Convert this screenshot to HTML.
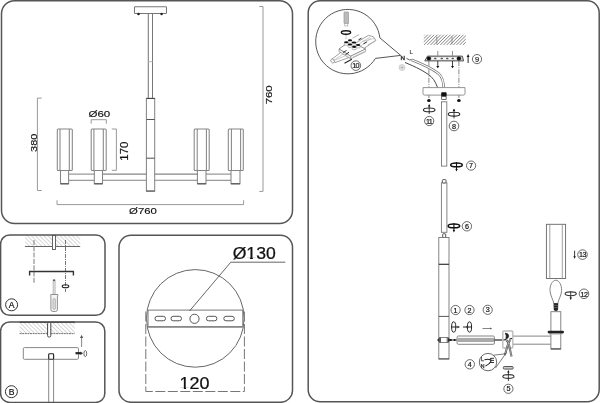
<!DOCTYPE html>
<html><head><meta charset="utf-8">
<style>
html,body{margin:0;padding:0;background:#fff;width:600px;height:403px;overflow:hidden}
svg{display:block;will-change:transform}
text{font-family:"Liberation Sans",sans-serif}
</style></head>
<body>
<svg width="600" height="403" viewBox="0 0 600 403">
<defs>
<pattern id="hA" width="2.9" height="2.9" patternUnits="userSpaceOnUse" patternTransform="rotate(-45)">
<rect width="2.9" height="2.9" fill="#fff"/><line x1="0" y1="0" x2="0" y2="2.9" stroke="#a5a5a5" stroke-width="0.9"/>
</pattern>
<pattern id="hC" width="2.3" height="2.3" patternUnits="userSpaceOnUse" patternTransform="rotate(45)">
<rect width="2.3" height="2.3" fill="#fff"/><line x1="0" y1="0" x2="0" y2="2.3" stroke="#444" stroke-width="0.95"/>
</pattern>
</defs>

<!-- ===== PANEL 1 : chandelier ===== -->
<g fill="none" stroke="#858585" stroke-width="1.05">
<rect x="134.5" y="6.8" width="32" height="6.7" rx="0.8" stroke="#777"/>
<circle cx="138.5" cy="14" r="1.3" fill="#222" stroke="none"/><circle cx="161.6" cy="14" r="1.3" fill="#222" stroke="none"/>
<line x1="148.3" y1="13.5" x2="148.3" y2="98.3" stroke="#777"/>
<line x1="152.5" y1="13.5" x2="152.5" y2="98.3" stroke="#777"/>
<line x1="148.3" y1="61.6" x2="152.5" y2="61.6" stroke="#bbb"/>
<rect x="146.4" y="98.3" width="8.3" height="92.9"/>
<line x1="146.4" y1="98.5" x2="154.7" y2="98.5" stroke="#444" stroke-width="1"/>
<line x1="146.4" y1="119.5" x2="154.7" y2="119.5" stroke="#555"/>
<line x1="146.4" y1="158.2" x2="154.7" y2="158.2" stroke="#555"/>
<line x1="146.4" y1="191" x2="154.7" y2="191" stroke="#555"/>
<!-- arms -->
<line x1="68.6" y1="174.1" x2="94.3" y2="174.1"/><line x1="68.6" y1="180.3" x2="94.3" y2="180.3"/>
<line x1="102.5" y1="174.1" x2="146.4" y2="174.1"/><line x1="102.5" y1="180.3" x2="146.4" y2="180.3"/>
<line x1="154.7" y1="174.1" x2="197.4" y2="174.1"/><line x1="154.7" y1="180.3" x2="197.4" y2="180.3"/>
<line x1="206" y1="174.1" x2="231" y2="174.1"/><line x1="206" y1="180.3" x2="231" y2="180.3"/>
<!-- shades -->
<rect x="57.3" y="128.9" width="15" height="41.6" rx="1"/>
<line x1="60" y1="128.9" x2="60" y2="170.5"/><line x1="69.3" y1="128.9" x2="69.3" y2="170.5"/>
<rect x="91.2" y="128.9" width="15" height="41.6" rx="1"/>
<line x1="93.9" y1="128.9" x2="93.9" y2="170.5"/><line x1="103.3" y1="128.9" x2="103.3" y2="170.5"/>
<rect x="194.2" y="128.9" width="15" height="41.6" rx="1"/>
<line x1="197.2" y1="128.9" x2="197.2" y2="170.5"/><line x1="206.4" y1="128.9" x2="206.4" y2="170.5"/>
<rect x="228.3" y="128.9" width="15" height="41.6" rx="1"/>
<line x1="231.4" y1="128.9" x2="231.4" y2="170.5"/><line x1="240.6" y1="128.9" x2="240.6" y2="170.5"/>
<!-- sockets -->
<path d="M60.5 170.5V183.8H68.6V170.5"/><line x1="60.5" y1="183.8" x2="68.6" y2="183.8" stroke="#555" stroke-width="1.2"/>
<path d="M94.3 170.5V183.8H102.5V170.5"/><line x1="94.3" y1="183.8" x2="102.5" y2="183.8" stroke="#555" stroke-width="1.2"/>
<path d="M197.4 170.5V183.8H206V170.5"/><line x1="197.4" y1="183.8" x2="206" y2="183.8" stroke="#555" stroke-width="1.2"/>
<path d="M231 170.5V183.8H240V170.5"/><line x1="231" y1="183.8" x2="240" y2="183.8" stroke="#555" stroke-width="1.2"/>
</g>
<!-- dims -->
<g fill="none" stroke="#999" stroke-width="1">
<path d="M41.7 98.1H37.4V190.5H41.7"/>
<path d="M91.2 123.6V119.7H106.3V123.6"/>
<path d="M111.8 129H116.4V170.3H111.8"/>
<path d="M57 200.3V204.6H243.6V200.3"/>
<path d="M259.3 6.5H263V191.4H259.3"/>
</g>
<g fill="#111" font-size="10.4" text-anchor="middle" stroke="#111" stroke-width="0.15">
<text transform="translate(99.3,117.4) scale(1.18,1)" font-size="9.8">Ø60</text>
<text transform="translate(143,214.4) scale(1.16,1)" font-size="9.8">Ø760</text>
<text transform="translate(36.5,142.8) rotate(-90) scale(1.12,1)" font-size="9.8">380</text>
<text transform="translate(127.6,151.1) rotate(-90) scale(1.1,1)">170</text>
<text transform="translate(272.3,94.8) rotate(-90) scale(1.18,1)" font-size="9.7">760</text>
</g>

<!-- ===== PANEL 2 : A ===== -->
<rect x="25" y="235.5" width="55.2" height="11" fill="url(#hA)"/>
<line x1="25" y1="246.5" x2="80.2" y2="246.5" stroke="#666" stroke-width="1"/>
<rect x="52.5" y="235.5" width="3" height="14" fill="#fff" stroke="#555" stroke-width="0.9"/>
<line x1="34" y1="240" x2="34" y2="284" stroke="#888" stroke-width="1.1" stroke-dasharray="5 1.3"/>
<line x1="65.5" y1="240" x2="65.5" y2="292" stroke="#555" stroke-width="0.8" stroke-dasharray="4 1 1 1"/>
<path d="M29.6 275.4V271.5H73.4V275.6" fill="none" stroke="#333" stroke-width="1.4"/>
<ellipse cx="65.5" cy="286.2" rx="3.3" ry="1.5" fill="none" stroke="#222" stroke-width="1.1"/>
<rect x="53.1" y="280" width="2" height="14.5" fill="#e6e6e6" stroke="#999" stroke-width="0.6"/>
<rect x="53.2" y="279.5" width="1.8" height="1.6" fill="#555"/>
<path d="M50.8 294.5H57.8V296.5H57.4V309.5Q57.4 311.5 55.4 311.5H52.9Q50.9 311.5 50.9 309.5V296.5H50.8Z" fill="#f4f4f4" stroke="#777" stroke-width="0.8"/>
<rect x="53" y="298.5" width="2.4" height="11" rx="1.2" fill="#ddd" stroke="#999" stroke-width="0.6"/>
<circle cx="11.6" cy="304.8" r="6" fill="none" stroke="#333" stroke-width="1"/>
<text x="11.7" y="307.7" text-anchor="middle" font-size="8.6" fill="#111" stroke="#111" stroke-width="0.2">A</text>

<!-- ===== PANEL 3 : B ===== -->
<rect x="19.6" y="322.5" width="55.2" height="11" fill="url(#hA)"/>
<line x1="19.6" y1="322.3" x2="74.8" y2="322.3" stroke="#444" stroke-width="1.6"/>
<line x1="19.6" y1="333.6" x2="74.8" y2="333.6" stroke="#777" stroke-width="1" stroke-dasharray="2 0.6"/>
<rect x="47.6" y="322.5" width="3.2" height="14.5" rx="1.2" fill="#fff" stroke="#444" stroke-width="1"/>
<rect x="23.3" y="347.6" width="55.2" height="11.7" rx="1.2" fill="#fff" stroke="#888" stroke-width="1"/>
<rect x="48.7" y="356" width="4.9" height="52" fill="#fff" stroke="#888" stroke-width="1"/>
<rect x="48.7" y="353.7" width="4.9" height="5.6" rx="0.9" fill="#fff" stroke="#222" stroke-width="1.1"/>
<line x1="81.6" y1="347" x2="81.6" y2="337" stroke="#555" stroke-width="0.7"/>
<path d="M80 338L81.6 334.8L83.2 338Z" fill="#555"/>
<path d="M75.5 353.2H81" stroke="#222" stroke-width="2.2"/>
<path d="M80.5 351.5L83 353.2L80.5 355Z" fill="#333"/>
<ellipse cx="85.3" cy="353.6" rx="1.4" ry="3" fill="none" stroke="#444" stroke-width="0.8"/>
<circle cx="11.4" cy="391.7" r="6" fill="none" stroke="#333" stroke-width="1"/>
<text x="11.7" y="394.8" text-anchor="middle" font-size="8.6" fill="#111" stroke="#111" stroke-width="0.2">B</text>

<!-- ===== PANEL 4 : disc ===== -->
<circle cx="195.3" cy="318.4" r="48.8" fill="none" stroke="#666" stroke-width="1"/>
<rect x="148" y="310.1" width="94.8" height="16.9" fill="#fff" stroke="#777" stroke-width="1"/>
<line x1="148" y1="326.8" x2="242.8" y2="326.8" stroke="#888" stroke-width="1.4"/>
<g fill="none" stroke="#555" stroke-width="1">
<rect x="155" y="316.3" width="10.5" height="4.5" rx="2.25"/>
<rect x="171" y="316.3" width="10.5" height="4.5" rx="2.25"/>
<rect x="206.4" y="316.3" width="10.5" height="4.5" rx="2.25"/>
<rect x="223.8" y="316.3" width="10.5" height="4.5" rx="2.25"/>
<circle cx="194.5" cy="318.8" r="4.6"/>
</g>
<path d="M189.5 311L230.8 262.2H285.3" fill="none" stroke="#555" stroke-width="0.9"/>
<g fill="none" stroke="#777" stroke-width="1" stroke-dasharray="10 2.5">
<line x1="145.8" y1="311.5" x2="145.8" y2="391.5"/>
<line x1="244.4" y1="311.5" x2="244.4" y2="391.5"/>
<line x1="145.8" y1="391.5" x2="244.4" y2="391.5" stroke-dashoffset="3"/>
</g>
<text transform="translate(254.2,259.3) scale(1.1,1)" text-anchor="middle" font-size="16" fill="#111" stroke="#111" stroke-width="0.25">Ø130</text>
<text transform="translate(194.4,389) scale(1.12,1)" text-anchor="middle" font-size="16" fill="#111" stroke="#111" stroke-width="0.25">120</text>

<g fill="#fff"><rect x="246.5" y="257.6" width="3.4" height="1.8"/><rect x="252.9" y="257.6" width="3.4" height="1.8"/>
<rect x="179.6" y="387.6" width="4.2" height="1.8"/><rect x="186" y="387.6" width="3.2" height="1.8"/></g>
<!-- ===== PANEL 5 : assembly ===== -->
<g id="p5">
<!-- callout circle -->
<path d="M379.9 37.9 A32.2 32.2 0 1 0 375.4 58.4 L400.7 55.4 Z" fill="none" stroke="#444" stroke-width="0.9"/>
<!-- screwdriver in callout -->
<rect x="344" y="12" width="4.5" height="11.5" rx="0.5" fill="#bbb" stroke="#999" stroke-width="0.7"/>
<rect x="344.8" y="23.5" width="3" height="2.5" fill="#fff" stroke="#999" stroke-width="0.6"/>
<ellipse cx="346" cy="32.5" rx="4.6" ry="1.7" fill="none" stroke="#111" stroke-width="1.4"/>
<line x1="346" y1="35" x2="346" y2="39" stroke="#999" stroke-width="0.8" stroke-dasharray="1.5 1"/>
<!-- cable bundle -->
<path d="M331.8 59.2 L344 50 L368.5 35.3 L373.5 36.8 L375.8 40.3 L353 56 L335 62.6 Z" fill="#fff" stroke="#777" stroke-width="0.7"/>
<g fill="none" stroke="#aaa" stroke-width="0.6">
<path d="M333 61 L352 53 L371 38"/>
<path d="M334 60 L348 51 L370 37"/>
<path d="M362 41.5 L374 38.5"/>
</g>
<ellipse cx="332.6" cy="61" rx="1.6" ry="2.1" fill="#fff" stroke="#777" stroke-width="0.7" transform="rotate(-35 332.6 61)"/>
<!-- terminal block -->
<path d="M339 49 L350 41.2 L365.6 49 L350.7 56.2 Z" fill="#fff" stroke="#666" stroke-width="0.7"/>
<path d="M350.7 56.2 L365.6 49 V51.6 L350.7 58.8 Z" fill="#fff" stroke="#777" stroke-width="0.6"/>
<path d="M339 49 V51.6 L350.7 58.8 V56.2 Z" fill="#eee" stroke="#777" stroke-width="0.6"/>
<g stroke="#999" stroke-width="0.5"><path d="M353 57 L364.5 51.5"/></g>
<g fill="#fff" stroke="#777" stroke-width="0.5">
<rect x="348" y="40.8" width="4" height="2.4" rx="1"/>
<rect x="344.2" y="42.8" width="4" height="2.4" rx="1"/>
<rect x="352" y="43" width="4" height="2.4" rx="1"/>
<rect x="348" y="45" width="4" height="2.4" rx="1"/>
<rect x="356.2" y="45.5" width="4" height="2.4" rx="1"/>
<rect x="352.2" y="47.3" width="4" height="2.4" rx="1"/>
</g>
<g fill="#111">
<ellipse cx="350" cy="40.25" rx="2.1" ry="1.1"/>
<ellipse cx="346.2" cy="42.25" rx="2.1" ry="1.1"/>
<ellipse cx="354" cy="42.5" rx="2.1" ry="1.1"/>
<ellipse cx="350" cy="44.5" rx="2.1" ry="1.1"/>
<ellipse cx="358.2" cy="45" rx="2.1" ry="1.1"/>
<ellipse cx="354.2" cy="46.8" rx="2.1" ry="1.1"/>
</g>
<path d="M343 52.5 L346.5 50.5" stroke="#222" stroke-width="0.9"/>
<path d="M345.5 54.5 L349 52.3" stroke="#222" stroke-width="1"/>
<path d="M344.5 63.3 L351.8 59.3" stroke="#222" stroke-width="1.1"/>
<path d="M352.5 38.2 L359 34.6" stroke="#aaa" stroke-width="0.9"/>
<path d="M368 45 L375.5 41" stroke="#aaa" stroke-width="0.9"/>
<path d="M358.5 39.8 L361.5 38.2" stroke="#222" stroke-width="1"/>
<path d="M363.5 43.8 L366.8 42" stroke="#222" stroke-width="1"/>
<circle cx="355.8" cy="65.6" r="4.8" fill="#fff" stroke="#444" stroke-width="0.8"/>
<text x="355.6" y="68.3" text-anchor="middle" font-size="7.2" fill="#111" stroke="#111" stroke-width="0.2" letter-spacing="-0.6">10</text>

<!-- ceiling hatch -->
<rect x="423.8" y="34.7" width="42" height="10.2" fill="url(#hC)"/>
<path d="M436.8 36.5V44.5 M452 36.5V44.5" stroke="#777" stroke-width="0.7"/>
<!-- mounting bar -->
<path d="M427.5 56.1 H462.3 L463.7 60.9 H424.8 Z" fill="#ccc" stroke="#444" stroke-width="0.9"/>
<g fill="#fff"><rect x="431.5" y="57.4" width="25" height="2.2"/></g><g fill="#555"><rect x="434" y="57.8" width="2.5" height="1.4" rx="0.7"/><rect x="440.5" y="57.8" width="2.5" height="1.4" rx="0.7"/><rect x="446" y="57.8" width="2.5" height="1.4" rx="0.7"/><rect x="451.5" y="57.8" width="2.5" height="1.4" rx="0.7"/></g>
<circle cx="428.9" cy="58.5" r="2.1" fill="#111"/>
<circle cx="458.9" cy="58.5" r="2.1" fill="#111"/>
<g stroke="#777" stroke-width="0.8">
<line x1="437.8" y1="51" x2="437.8" y2="55.8"/><line x1="452.5" y1="51" x2="452.5" y2="55.8"/>
</g>
<g stroke="#111" stroke-width="0.8">
<line x1="437.8" y1="61" x2="437.8" y2="66.5"/><line x1="452.5" y1="61" x2="452.5" y2="66.5"/>
</g>
<path d="M436.3 66 H439.3 L437.8 68.3Z M451 66 H454 L452.5 68.3Z" fill="#111"/>
<line x1="468.1" y1="56" x2="468.1" y2="63" stroke="#111" stroke-width="0.9"/>
<path d="M466.7 57 L468.1 54 L469.5 57Z" fill="#111"/>
<circle cx="477" cy="59.1" r="4.6" fill="none" stroke="#444" stroke-width="0.8"/>
<text x="477" y="61.8" text-anchor="middle" font-size="7.5" fill="#111" stroke="#111" stroke-width="0.15">9</text>
<!-- dash-dot lines -->
<g stroke="#555" stroke-width="0.7" stroke-dasharray="5 1.2 1 1.2">
<line x1="428.9" y1="61" x2="428.9" y2="98"/>
<line x1="458.9" y1="61" x2="458.9" y2="98"/>
</g>
<!-- L N labels, ground -->
<text x="411.2" y="53.5" text-anchor="middle" font-size="6" fill="#444" stroke="#444" stroke-width="0.2">L</text>
<text x="402.8" y="59.6" text-anchor="middle" font-size="6.2" fill="#333" stroke="#333" stroke-width="0.4">N</text>
<circle cx="402" cy="67.5" r="3" fill="#e4e4e4" stroke="#bbb" stroke-width="0.6"/>
<path d="M400.5 67.5H403.5M402 66V69" stroke="#999" stroke-width="0.5"/>
<path d="M406.5 58.3 Q409.5 61 412.5 59.5" fill="none" stroke="#333" stroke-width="0.8"/>
<!-- cables -->
<path d="M411.5 59.8 C422 64 432 68.5 438.5 73.5 C443 77 443.9 83 443.9 91" fill="none" stroke="#777" stroke-width="2.6"/>
<path d="M411.5 59.8 C422 64 432 68.5 438.5 73.5 C443 77 443.9 83 443.9 91" fill="none" stroke="#fff" stroke-width="1.1"/>
<path d="M405 62.5 C416 67 425 71.5 431 76.6 C435 80 437 86 439.5 92.5" fill="none" stroke="#333" stroke-width="0.9"/>
<!-- canopy -->
<path d="M423 87.6 H465 V93.3 Q465 95.1 463.2 95.1 H424.8 Q423 95.1 423 93.3 Z" fill="#fff" stroke="#888" stroke-width="0.9"/>
<rect x="441.2" y="92.3" width="5.4" height="4.1" rx="0.8" fill="#111"/>
<rect x="441.7" y="96.4" width="4.4" height="3.1" fill="#fff" stroke="#333" stroke-width="0.7"/>
<ellipse cx="428.9" cy="100.5" rx="1.8" ry="1.5" fill="#111"/>
<ellipse cx="458.9" cy="100.5" rx="1.8" ry="1.5" fill="#111"/>
<!-- rotation symbols -->
<g fill="none" stroke="#222" stroke-width="1.1">
<ellipse cx="429.2" cy="109.9" rx="5.8" ry="1.9"/>
<ellipse cx="454" cy="114.2" rx="5.8" ry="1.9"/>
</g>
<g fill="none" stroke="#111" stroke-width="1.5">
<ellipse cx="456.5" cy="164.9" rx="5.8" ry="1.9"/>
<ellipse cx="453.9" cy="225.9" rx="5.8" ry="1.9"/>
</g>
<g stroke="#111" stroke-width="0.8">
<line x1="429.2" y1="105" x2="429.2" y2="114"/>
<line x1="454" y1="109.5" x2="454" y2="118.5"/>
<line x1="456.5" y1="162.3" x2="456.5" y2="170" stroke-width="1.1"/>
<line x1="453.9" y1="223.3" x2="453.9" y2="231" stroke-width="1.1"/>
<line x1="570.7" y1="291.5" x2="570.7" y2="298.5"/>
<line x1="508.4" y1="371" x2="508.4" y2="381"/>
</g>
<path d="M428 106.5 L429.2 104 L430.4 106.5Z M452.8 111 L454 108.5 L455.2 111Z M455.3 169 L456.5 171.5 L457.7 169Z M452.7 230 L453.9 232.5 L455.1 230Z M569.5 297.5 L570.7 300 L571.9 297.5Z M507.2 372.5 L508.4 370 L509.6 372.5Z" fill="#111"/>
<g fill="none" stroke="#333" stroke-width="1.1">
<ellipse cx="570.7" cy="293.8" rx="5.6" ry="1.9"/>
<ellipse cx="508.4" cy="376.5" rx="5.6" ry="1.9"/>
</g>
<!-- numbered circles -->
<g fill="none" stroke="#444" stroke-width="0.8">
<circle cx="429.2" cy="121" r="4.6"/>
<circle cx="454" cy="126" r="4.8"/>
<circle cx="471.1" cy="165.6" r="4.6"/>
<circle cx="466.9" cy="226.3" r="4.7"/>
<circle cx="455.6" cy="310" r="4.6"/>
<circle cx="469.5" cy="310" r="4.6"/>
<circle cx="487.7" cy="309.8" r="4.6"/>
<circle cx="469.8" cy="364.3" r="4.7"/>
<circle cx="508.4" cy="388.8" r="4.6"/>
<circle cx="582.5" cy="254.6" r="4.8"/>
<circle cx="584" cy="293.8" r="4.8"/>
</g>
<g fill="#111" font-size="7.2" text-anchor="middle" stroke="#111" stroke-width="0.2">
<text x="429" y="123.6" letter-spacing="-0.8">11</text>
<text x="454" y="128.7">8</text>
<text x="471.1" y="168.2">7</text>
<text x="466.9" y="228.9">6</text>
<text x="455.6" y="312.6">1</text>
<text x="469.5" y="312.6">2</text>
<text x="487.7" y="312.4">3</text>
<text x="469.8" y="366.9">4</text>
<text x="508.4" y="391.4">5</text>
<text x="582.5" y="257.3" letter-spacing="-0.4" font-size="7.2">13</text>
<text x="584" y="296.5" letter-spacing="-0.4" font-size="7.2">12</text>
</g>
<!-- rods -->
<rect x="441.5" y="101.8" width="5.3" height="64.3" fill="#fff" stroke="#777" stroke-width="0.9"/>
<rect x="441.4" y="182.8" width="5.5" height="49.5" fill="#fff" stroke="#777" stroke-width="0.9"/>
<rect x="442.4" y="179.6" width="3.6" height="3.4" rx="0.8" fill="#fff" stroke="#444" stroke-width="0.9"/>
<!-- body -->
<rect x="442.7" y="233.8" width="3" height="3.7" rx="0.5" fill="#fff" stroke="#444" stroke-width="0.9"/>
<rect x="438.8" y="237.5" width="10.2" height="121.6" fill="#fff" stroke="#777" stroke-width="0.9"/>
<line x1="438.8" y1="264.3" x2="449" y2="264.3" stroke="#333" stroke-width="1.2"/>
<line x1="438.8" y1="316.4" x2="449" y2="316.4" stroke="#555" stroke-width="1"/>
<line x1="438.8" y1="358.8" x2="449" y2="358.8" stroke="#555" stroke-width="1"/>
<!-- connector -->
<rect x="439.4" y="337.6" width="8.8" height="4.8" fill="#fff" stroke="#666" stroke-width="0.8"/>
<path d="M437 340 L439.6 337.4 V342.6 Z M448 337.4 L450.8 340 L448 342.6 Z" fill="#333"/>
<line x1="440.5" y1="337.6" x2="440.5" y2="342.4" stroke="#333" stroke-width="0.8"/>
<line x1="447.2" y1="337.6" x2="447.2" y2="342.4" stroke="#333" stroke-width="0.8"/>
<line x1="450.5" y1="340" x2="457.2" y2="340" stroke="#333" stroke-width="1"/>
<circle cx="450.8" cy="340" r="1.1" fill="#111"/><circle cx="454.6" cy="340" r="1.1" fill="#111"/>
<!-- symbols 1,2 -->
<g fill="#fff" stroke="#222" stroke-width="1">
<ellipse cx="453.7" cy="327" rx="2.1" ry="5.2"/>
<ellipse cx="469.5" cy="327" rx="2.1" ry="5.2"/>
</g>
<g stroke="#222" stroke-width="1">
<line x1="451" y1="327" x2="458.5" y2="327"/>
<line x1="463" y1="327" x2="472" y2="327"/>
</g>
<line x1="482.5" y1="328.5" x2="490.5" y2="328.5" stroke="#666" stroke-width="0.8"/>
<path d="M457.5 325.8 L460 327 L457.5 328.2Z M466.5 325.8 L469 327 L466.5 328.2Z" fill="#333"/>
<path d="M490 327.5 L492.3 328.5 L490 329.5Z" fill="#666"/>
<!-- tube -->
<rect x="457.1" y="336" width="37.3" height="8.3" rx="1.2" fill="#fff" stroke="#777" stroke-width="0.9"/>
<rect x="457.6" y="337.9" width="36.4" height="4.1" fill="#aaa"/>
<line x1="494.4" y1="340" x2="502.5" y2="340" stroke="#111" stroke-width="1.1"/>
<!-- junction box -->
<rect x="502.8" y="331" width="10" height="17" rx="1" fill="#fff" stroke="#bbb" stroke-width="1.4"/>
<path d="M505.3 333.2 Q509 333.5 508.6 336.5 Q508.2 339 505.8 338.5 Q507.2 336 505.3 333.2Z" fill="#222" stroke="#222" stroke-width="0.8"/>
<line x1="513.3" y1="336.1" x2="550.9" y2="336.1" stroke="#777" stroke-width="0.9"/>
<line x1="513.3" y1="344.2" x2="550.9" y2="344.2" stroke="#777" stroke-width="0.9"/>
<path d="M503.5 340 L506 339.5" stroke="#111" stroke-width="1.2"/>
<!-- wires -->
<path d="M506 340 C510 342 509.5 350 511.6 356.5" fill="none" stroke="#555" stroke-width="2"/>
<path d="M510.5 340 C507 343 507 350 504.8 355" fill="none" stroke="#555" stroke-width="2"/>
<path d="M506 340 C510 342 509.5 350 511.6 356.5" fill="none" stroke="#ccc" stroke-width="0.7"/>
<path d="M510.5 340 C507 343 507 350 504.8 355" fill="none" stroke="#ccc" stroke-width="0.7"/>
<path d="M509.5 339 L512 338.5" stroke="#111" stroke-width="1.1"/>
<!-- callout 4 -->
<path d="M493.5 355.2 L505.3 353.8 M495.5 368 L506.5 352.5" fill="none" stroke="#444" stroke-width="0.7"/>
<circle cx="488" cy="362.1" r="8.7" fill="#fff" stroke="#444" stroke-width="0.8"/>
<text x="481" y="361.2" font-size="5.2" fill="#333" stroke="#333" stroke-width="0.25">L</text>
<text x="480.8" y="368" font-size="5.2" fill="#333" stroke="#333" stroke-width="0.25">N</text>
<path d="M484.5 359.8 Q488.5 358.5 491 360.2 M485.5 366 Q489 364.5 491 361.5" fill="none" stroke="#222" stroke-width="1.1"/>
<path d="M490.5 358.3 H494 M490.5 360.4 H494 M490.5 362.5 H494 M490.8 358 V363" stroke="#222" stroke-width="0.9"/>
<!-- washer 5 -->
<rect x="503.3" y="366.5" width="9.9" height="2.6" rx="1" fill="#ccc" stroke="#444" stroke-width="0.9"/>
<!-- shade -->
<rect x="546.4" y="224.3" width="19.2" height="54.2" fill="#fff" stroke="#666" stroke-width="0.9"/>
<line x1="549.8" y1="224.3" x2="549.8" y2="278.5" stroke="#888" stroke-width="0.8"/>
<line x1="562.3" y1="224.3" x2="562.3" y2="278.5" stroke="#888" stroke-width="0.8"/>
<line x1="574.6" y1="250.7" x2="574.6" y2="257" stroke="#222" stroke-width="0.9"/>
<path d="M573.3 256.2 L574.6 258.8 L575.9 256.2Z" fill="#222"/>
<!-- bulb -->
<path d="M555.8 280.2 C559.5 280.5 561.8 285.5 561.6 290.5 C561.4 295.5 558.6 299 557.8 303.5 H553.8 C553 299 550.2 295.5 550 290.5 C549.8 285.5 552.1 280.5 555.8 280.2 Z" fill="#fff" stroke="#666" stroke-width="0.8"/>
<path d="M553.5 303.2 H558.2 L558 310 Q556 311.8 553.8 310 Z" fill="#222"/>
<g stroke="#888" stroke-width="0.6"><line x1="553.5" y1="305" x2="558.7" y2="305.8"/><line x1="553.5" y1="307.2" x2="558.7" y2="308"/></g>
<!-- socket -->
<rect x="550.9" y="311.7" width="9.9" height="37.3" fill="#fff" stroke="#777" stroke-width="0.9"/>
<line x1="550.9" y1="348.9" x2="560.8" y2="348.9" stroke="#555" stroke-width="1.2"/>
<rect x="547.6" y="330.8" width="16.4" height="2.6" rx="1.3" fill="#222"/><line x1="549" y1="334.2" x2="562.5" y2="334.2" stroke="#aaa" stroke-width="0.7"/>
</g>
<!-- ===== PANEL BORDERS ===== -->
<g fill="none" stroke="#555" stroke-width="1.5">
<rect x="1.5" y="0.75" width="291" height="222.75" rx="13"/>
<rect x="0.6" y="235" width="104.4" height="80.3" rx="9"/>
<rect x="0.6" y="322" width="104.2" height="80.4" rx="9"/>
<rect x="119" y="235.3" width="173.5" height="167" rx="12"/>
<rect x="308.2" y="0.75" width="291" height="401" rx="12"/>
</g>

</svg>
</body></html>
